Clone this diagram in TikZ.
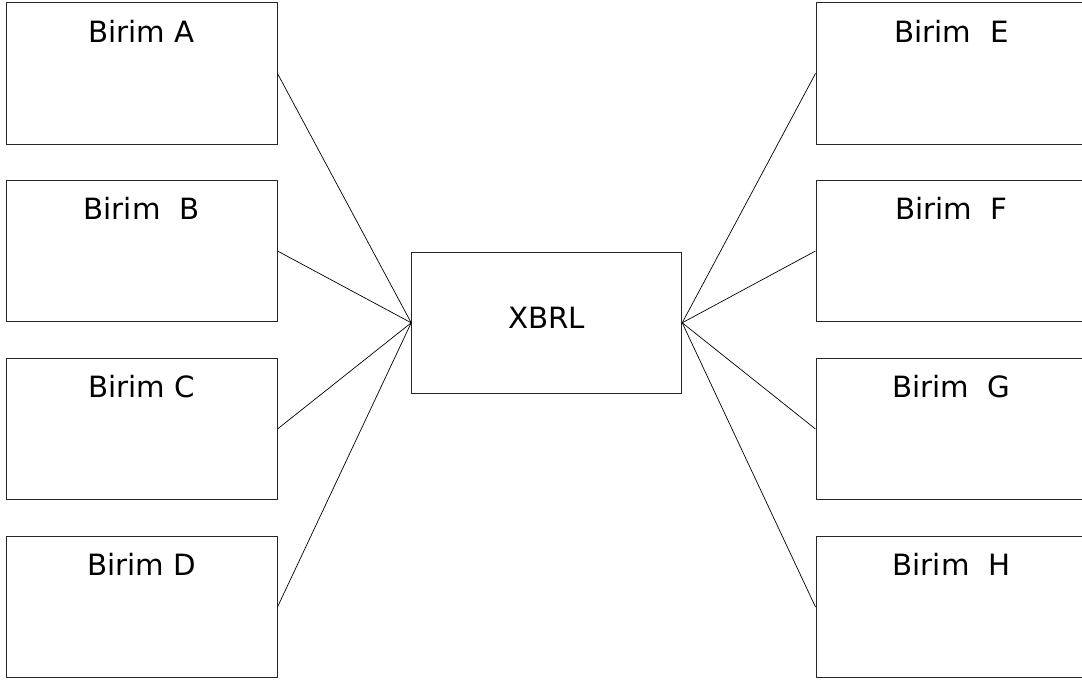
\documentclass[tikz,border=0pt]{standalone}
\usepackage{fontspec}
\setmainfont{DejaVu Sans}
\usepackage{tikz}
\usetikzlibrary{calc}

\tikzset{
    birim/.style={draw=black!85, line width=1pt, minimum width=271pt, minimum height=141.5pt, inner sep=0pt},
    birimtext/.style={anchor=base, inner sep=0pt, font=\fontsize{29.3pt}{34pt}\selectfont},
    link/.style={line width=0.7pt}
}

\begin{document}
\begin{tikzpicture}[x=1pt, y=-1pt]
        \useasboundingbox (0,0) rectangle (1082,682);
        \clip (0,0) rectangle (1082,682);
        %LEFT BOXES
        \node[birim] (A) at (141.5,73.5) {};
        \node[birim] (B) at (141.5,251) {};
        \node[birim] (C) at (141.5,429) {};
        \node[birim] (D) at (141.5,607) {};
        %RIGHT BOXES
        \node[birim] (E) at (951.5,73.5) {};
        \node[birim] (F) at (951.5,251) {};
        \node[birim] (G) at (951.5,429) {};
        \node[birim] (H) at (951.5,607) {};
        %XBRL
        \node[birim, minimum width=270pt, minimum height=141.5pt] (X) at (546.7,322.8) {};
        \node[birimtext] (Xt) at ($(X.center)+(0,5.2)$) {XBRL};
        %TEXTS
        \node[birimtext] (At) at ($(A.north)+(0,40)$) {Birim A};
        \node[birimtext] (Bt) at ($(B.north)+(0,40)$) {Birim\ \ B};
        \node[birimtext] (Ct) at ($(C.north)+(0,40)$) {Birim C};
        \node[birimtext] (Dt) at ($(D.north)+(0,40)$) {Birim D};
        \node[birimtext] (Et) at ($(E.north)+(0,40)$) {Birim\ \ E};
        \node[birimtext] (Ft) at ($(F.north)+(0,40)$) {Birim\ \ F};
        \node[birimtext] (Gt) at ($(G.north)+(0,40)$) {Birim\ \ G};
        \node[birimtext] (Ht) at ($(H.north)+(0,40)$) {Birim\ \ H};
        %LINKS
        \foreach \b in {A,B,C,D}
            \draw[link] (\b.east) -- (X.west);
        \foreach \b in {E,F,G,H}
            \draw[link] (\b.west) -- (X.east);
\end{tikzpicture}
\end{document}
